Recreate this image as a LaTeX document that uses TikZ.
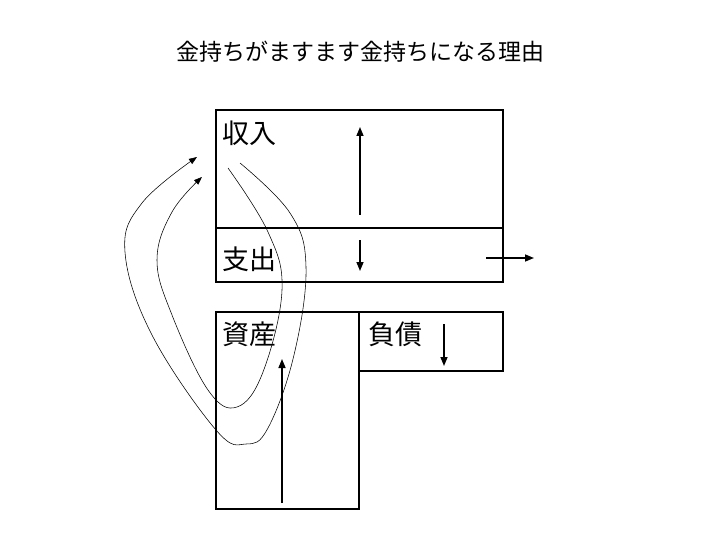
\documentclass[tikz,border=0pt]{standalone}
\usepackage{fontspec}
\setmainfont{Noto Sans CJK JP}
\usetikzlibrary{arrows.meta}
\tikzset{
  box/.style={draw, line width=1.6pt},
  lbl/.style={anchor=west, inner sep=0pt, font=\fontsize{27}{29}\selectfont},
  flow/.style={line width=1.5pt, -{Triangle[length=9pt,width=7pt]}},
  loop/.style={line width=0.55pt, -{Triangle[length=8pt,width=6pt]}},
}
\begin{document}
\begin{tikzpicture}[x=1pt,y=-1pt]
\useasboundingbox (0,0) rectangle (720,540);
% title
\node[font=\fontsize{23}{25}\selectfont, inner sep=0pt] (title) at (360,52) {金持ちがますます金持ちになる理由};
% boxes
\draw[box] (216,110) rectangle (503,282);
\draw[box] (216,228) -- (503,228);
\draw[box] (216,312) rectangle (359,509);
\draw[box] (359,312) rectangle (503,371);
% labels
\node[lbl] (inc) at (222,133) {収入};
\node[lbl] (exp) at (222,259) {支出};
\node[lbl] (ast) at (222,334) {資産};
\node[lbl] (lia) at (368,334) {負債};
% arrow coordinates
\coordinate (i0) at (360,215); \coordinate (i1) at (360,127);
\coordinate (e0) at (360,240); \coordinate (e1) at (360,271);
\coordinate (o0) at (486,258); \coordinate (o1) at (534,258);
\coordinate (l0) at (444,324); \coordinate (l1) at (444,366);
\coordinate (a0) at (282,503); \coordinate (a1) at (282,359);
\draw[flow] (i0) -- (i1);
\draw[flow] (e0) -- (e1);
\draw[flow] (o0) -- (o1);
\draw[flow] (l0) -- (l1);
\draw[flow] (a0) -- (a1);
% loop curves
\draw[loop] plot[smooth, tension=0.65] coordinates {(228,168) (268,232) (282,290) (263,372) (237,407) (208,390) (172,315) (157,260) (172,212) (202,177)};
\draw[loop] plot[smooth, tension=0.65] coordinates {(240,163) (290,213) (306,267) (294,355) (268,428) (246,444) (216,430) (152,335) (125,252) (142,203) (197,157)};
\end{tikzpicture}
\end{document}
